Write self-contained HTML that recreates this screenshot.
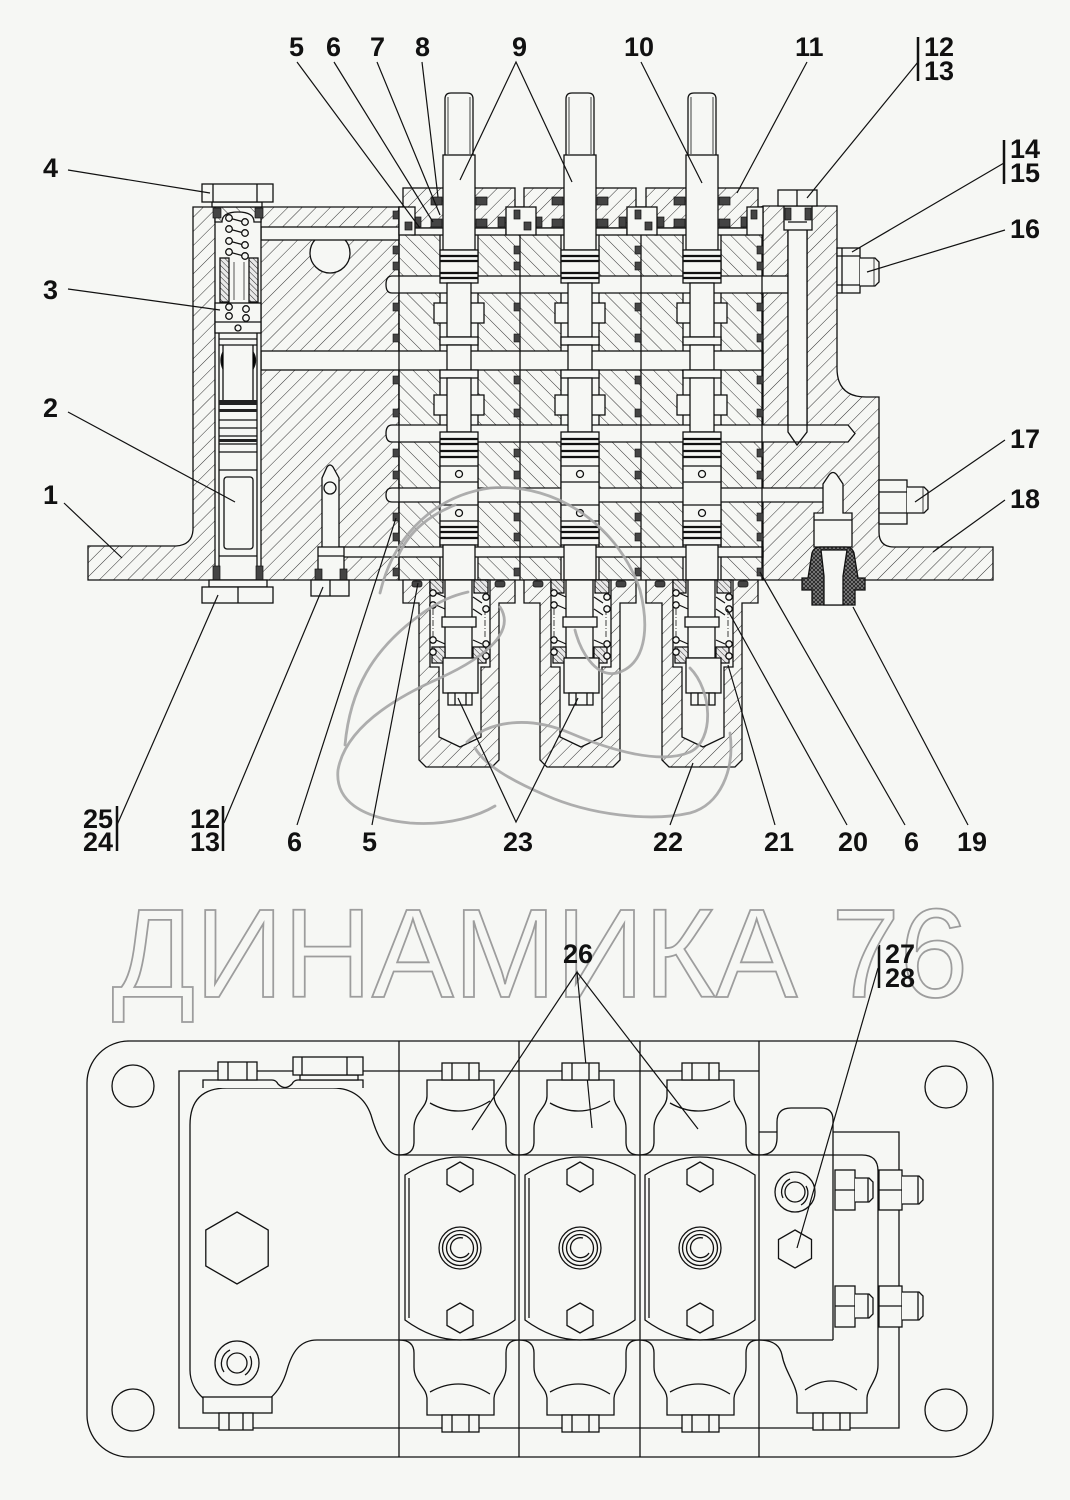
<!DOCTYPE html>
<html><head><meta charset="utf-8"><style>
html,body{margin:0;padding:0;background:#f6f7f4;}
svg{display:block}
</style></head><body>
<svg width="1070" height="1500" viewBox="0 0 1070 1500" xmlns="http://www.w3.org/2000/svg">
<style>
.o{fill:none;stroke:#111;stroke-width:1.3}
.k{stroke:#111;stroke-width:1.3}
.w{fill:#f6f7f4;stroke:#111;stroke-width:1.3}
.s{fill:#444;stroke:#111;stroke-width:.7}
.l{fill:none;stroke:#111;stroke-width:1.2}
.g{fill:none;stroke:#a6a6a6;stroke-width:2.8;stroke-linecap:round}
.t{font-family:"Liberation Sans",Arial,sans-serif;font-weight:bold;font-size:27px;fill:#111}
</style>
<defs>
<pattern id="hA" patternUnits="userSpaceOnUse" width="10" height="10" patternTransform="rotate(45)"><rect width="10" height="10" fill="#f6f7f4"/><line x1="0" y1="0" x2="0" y2="10" stroke="#333" stroke-width="1"/></pattern>
<pattern id="hB" patternUnits="userSpaceOnUse" width="10" height="10" patternTransform="rotate(-45)"><rect width="10" height="10" fill="#f6f7f4"/><line x1="0" y1="0" x2="0" y2="10" stroke="#333" stroke-width="1"/></pattern>
<pattern id="hS" patternUnits="userSpaceOnUse" width="4" height="4" patternTransform="rotate(-45)"><rect width="4" height="4" fill="#e8e8e8"/><line x1="0" y1="0" x2="0" y2="4" stroke="#222" stroke-width="1"/></pattern>
<pattern id="xh" patternUnits="userSpaceOnUse" width="4" height="4"><rect width="4" height="4" fill="#888"/><path d="M0,0L4,4M4,0L0,4" stroke="#222" stroke-width=".9"/></pattern>

<g id="sq" fill="#444" stroke="#111" stroke-width=".6">
<rect x="-6" y="211" width="6" height="8"/><rect x="-6" y="246" width="6" height="8"/><rect x="-6" y="262" width="6" height="8"/>
<rect x="-6" y="303" width="6" height="8"/><rect x="-6" y="334" width="6" height="8"/><rect x="-6" y="376" width="6" height="8"/>
<rect x="-6" y="409" width="6" height="8"/><rect x="-6" y="449" width="6" height="8"/><rect x="-6" y="471" width="6" height="8"/>
<rect x="-6" y="513" width="6" height="8"/><rect x="-6" y="533" width="6" height="8"/><rect x="-6" y="568" width="6" height="8"/>
</g>

<g id="bore">
<rect x="-19" y="235" width="38" height="345" fill="#f6f7f4"/>
<line x1="-19" y1="235" x2="-19" y2="580" class="k"/><line x1="19" y1="235" x2="19" y2="580" class="k"/>
<rect x="-25" y="303" width="50" height="20" class="w"/>
<rect x="-25" y="395" width="50" height="20" class="w"/>
</g>

<g id="cap">
<rect x="-56" y="188" width="112" height="40" fill="url(#hA)" class="k"/>
<rect x="-47" y="228" width="94" height="7" class="w"/>
<rect x="-28" y="197" width="11" height="8" class="s"/><rect x="17" y="197" width="11" height="8" class="s"/>
<rect x="-28" y="219" width="11" height="8" class="s"/><rect x="17" y="219" width="11" height="8" class="s"/>
<rect x="-45" y="217" width="7" height="10" class="s"/><rect x="39" y="217" width="7" height="10" class="s"/>
</g>

<g id="bush">
<rect x="-14" y="207" width="30" height="28" class="w"/>
<rect x="-6" y="210" width="6" height="9" class="s"/>
<rect x="4" y="222" width="7" height="8" class="s"/>
</g>

<g id="spool">
<path d="M-14,157 V99 Q-14,93 -8,93 H8 Q14,93 14,99 V157" class="w"/>
<line x1="-11" y1="97" x2="-11" y2="154" stroke="#111" stroke-width=".8"/>
<line x1="11" y1="97" x2="11" y2="154" stroke="#111" stroke-width=".8"/>
<rect x="-16" y="155" width="32" height="95" class="w"/>
<rect x="-19" y="250" width="38" height="33" class="w"/>
<g stroke="#111" stroke-width="2.2"><line x1="-19" y1="256" x2="19" y2="256"/><line x1="-19" y1="261" x2="19" y2="261"/><line x1="-19" y1="273" x2="19" y2="273"/><line x1="-19" y1="278" x2="19" y2="278"/></g>
<rect x="-12" y="283" width="24" height="54" class="w"/>
<rect x="-19" y="337" width="38" height="8" class="w"/>
<rect x="-12" y="345" width="24" height="25" class="w"/>
<rect x="-19" y="370" width="38" height="8" class="w"/>
<rect x="-12" y="378" width="24" height="54" class="w"/>
<rect x="-19" y="432" width="38" height="113" class="w"/>
<g stroke="#111" stroke-width="2.2"><line x1="-19" y1="439" x2="19" y2="439"/><line x1="-19" y1="444" x2="19" y2="444"/><line x1="-19" y1="451" x2="19" y2="451"/><line x1="-19" y1="457" x2="19" y2="457"/><line x1="-19" y1="527" x2="19" y2="527"/><line x1="-19" y1="532" x2="19" y2="532"/><line x1="-19" y1="538" x2="19" y2="538"/></g>
<g class="k"><line x1="-19" y1="466" x2="19" y2="466"/><line x1="-19" y1="482" x2="19" y2="482"/><line x1="-19" y1="505" x2="19" y2="505"/><line x1="-19" y1="521" x2="19" y2="521"/></g>
<circle cx="0" cy="474" r="3.5" class="w"/><circle cx="0" cy="513" r="3.5" class="w"/>
<rect x="-16" y="545" width="32" height="35" class="w"/>
</g>

<g id="cup">
<path d="M-56,580 H56 V603 H40 V760 L33,767 H-33 L-40,760 V603 H-56 Z" fill="url(#hA)" class="k"/>
<path d="M-29,580 H31 V667 H22 V737 L1,747 L-20,737 V667 H-29 Z" class="w"/>
<rect x="-47" y="581" width="10" height="6" rx="2" class="s"/><rect x="36" y="581" width="10" height="6" rx="2" class="s"/>
<rect x="-29" y="580" width="13" height="13" fill="url(#hS)" class="k"/><rect x="15" y="580" width="14" height="13" fill="url(#hS)" class="k"/>
<line x1="-26" y1="609" x2="-26" y2="637" stroke="#111" stroke-width=".8" stroke-dasharray="6 2 1 2"/>
<line x1="26" y1="609" x2="26" y2="637" stroke="#111" stroke-width=".8" stroke-dasharray="6 2 1 2"/>
<path d="M-23,593 L-14,597 M-23,605 L-14,609 M14,597 L23,603 M14,609 L23,615 M-23,640 L-14,644 M-23,652 L-14,656 M14,640 L23,644" class="l"/>
<rect x="-14" y="580" width="27" height="78" class="w"/>
<rect x="-17" y="617" width="34" height="10" class="w"/>
<rect x="-27" y="647" width="13" height="16" fill="url(#hS)" class="k"/><rect x="14" y="647" width="13" height="16" fill="url(#hS)" class="k"/>
<rect x="-16" y="658" width="35" height="35" class="w"/>
<rect x="-11" y="693" width="24" height="12" class="w"/>
<line x1="-4" y1="693" x2="-4" y2="705" class="k"/><line x1="7" y1="693" x2="7" y2="705" class="k"/>
<g class="w"><circle cx="-26" cy="593" r="3.2"/><circle cx="-26" cy="605" r="3.2"/><circle cx="-26" cy="640" r="3.2"/><circle cx="-26" cy="652" r="3.2"/>
<circle cx="27" cy="597" r="3.2"/><circle cx="27" cy="609" r="3.2"/><circle cx="27" cy="644" r="3.2"/><circle cx="27" cy="656" r="3.2"/></g>
</g>

<polygon id="hx15" points="0,-15 13,-7.5 13,7.5 0,15 -13,7.5 -13,-7.5"/>

<g id="bcap">
<path d="M-61,1155 Q-46,1155 -46,1142 V1128 C-46,1112 -33,1108 -33,1096 V1080 H34 V1096 C34,1108 46,1112 46,1128 V1142 Q46,1155 59,1155"/>
<rect x="-18" y="1063" width="37" height="17" fill="#f6f7f4"/>
<line x1="-8" y1="1063" x2="-8" y2="1080"/><line x1="9" y1="1063" x2="9" y2="1080"/>
<path d="M-30,1103 Q0,1120 30,1101"/>
</g>

<g id="bsec" class="o">
<use href="#bcap"/>
<g transform="translate(0,2495) scale(1,-1)"><use href="#bcap"/></g>
<path d="M-55,1175 Q0,1139 55,1175 V1320 Q0,1360 -55,1320 Z"/>
<path d="M-51,1178 V1318"/>
<use href="#hx15" y="1177"/>
<use href="#hx15" y="1318"/>
<circle cx="0" cy="1248" r="21"/><circle cx="0" cy="1248" r="17.5"/><circle cx="0" cy="1248" r="13.5"/>
<path d="M9,1253 A10,10 0 1,1 3,1238"/>
</g>
</defs>

<rect width="1070" height="1500" fill="#f6f7f4"/>

<!-- ===== TOP CROSS SECTION ===== -->
<path d="M193,207 H399 V580 H88 V546 H176 Q192,545 193,530 Z" fill="url(#hA)" class="k"/>
<rect x="399" y="207" width="364" height="373" fill="url(#hB)" class="k"/>
<path d="M763,206 H837 V368 Q837,397 866,397 H879 V532 Q879,547 894,547 H993 V580 H763 Z" fill="url(#hA)" class="k"/>

<!-- spool bores -->
<use href="#bore" x="459"/><use href="#bore" x="580"/><use href="#bore" x="702"/>

<!-- round hole -->
<circle cx="330" cy="253" r="20" class="w"/>

<!-- channels -->
<rect x="261" y="227" width="138" height="13" class="w"/>
<rect x="261" y="351" width="502" height="19" class="w"/>
<path d="M392,276 H795 V293 H392 Q386,293 386,284.5 Q386,276 392,276 Z" class="w"/>
<path d="M788,228 V425 M807,228 V425" class="k"/>
<rect x="788" y="228" width="19" height="197" fill="#f6f7f4"/>
<path d="M788,228 V425 M807,228 V425" class="k"/>
<path d="M392,425 H848 L855,433.5 L848,442 H392 Q386,442 386,433.5 Q386,425 392,425 Z" class="w"/>
<path d="M788,425 V432 L797,445 L807,432 V425" class="o"/>
<path d="M392,488 H830 V502 H392 Q386,502 386,495 Q386,488 392,488 Z" class="w"/>
<rect x="339" y="547" width="424" height="10" class="w"/>

<!-- right body plug seat -->
<rect x="784" y="206" width="28" height="24" class="w"/>
<rect x="785" y="208" width="6" height="12" class="s"/><rect x="805" y="208" width="6" height="12" class="s"/>
<line x1="788" y1="222" x2="807" y2="222" class="k"/>
<!-- right body valve -->
<path d="M823,513 V484 L829,475 Q833,470 837,475 L843,484 V513 H852 V547 H814 V513 Z" class="w"/>
<line x1="814" y1="520" x2="852" y2="520" class="k"/>
<!-- fitting 19 -->
<path d="M808,578 L812,553 Q814,547 820,547 H846 Q852,547 854,553 L858,578 H865 V590 H855 V605 H812 V590 H802 V578 Z" fill="url(#xh)" class="k"/>
<path d="M821,550 H847 L843,576 V605 H824 V576 Z" class="w"/>

<!-- section lines & seals -->
<path d="M399,207V580M520,207V580M641,207V580M762,206V580" class="k"/>
<use href="#sq" x="399"/><use href="#sq" x="520"/><use href="#sq" x="641"/><use href="#sq" x="763"/>

<!-- caps -->
<use href="#cap" x="459"/><use href="#cap" x="580"/><use href="#cap" x="702"/>
<use href="#bush" x="520"/><use href="#bush" x="641"/>
<rect x="399" y="207" width="16" height="28" class="w"/><rect x="405" y="222" width="7" height="8" class="s"/>
<rect x="747" y="207" width="16" height="28" class="w"/><rect x="751" y="210" width="6" height="9" class="s"/>

<!-- spools -->
<use href="#spool" x="459"/><use href="#spool" x="580"/><use href="#spool" x="702"/>

<!-- cups -->
<use href="#cup" x="459"/><use href="#cup" x="580"/><use href="#cup" x="702"/>

<!-- left bore (items 2,3) -->
<rect x="215" y="207" width="46" height="373" class="w"/>
<path d="M215,207 H261 V222 H254 Q254,212 238,212 Q222,212 222,222 H215 Z" fill="url(#hB)" class="k"/>
<rect x="213" y="208" width="8" height="10" class="s"/><rect x="255" y="208" width="8" height="10" class="s"/>
<path d="M229,218 L244,222 M229,229 L244,233 M229,241 L244,245 M229,252 L244,256" class="l"/>
<g class="w"><circle cx="229" cy="218" r="3.3"/><circle cx="245" cy="222" r="3.3"/><circle cx="229" cy="229" r="3.3"/><circle cx="245" cy="233" r="3.3"/><circle cx="229" cy="241" r="3.3"/><circle cx="245" cy="245" r="3.3"/><circle cx="229" cy="252" r="3.3"/><circle cx="245" cy="256" r="3.3"/></g>
<rect x="220" y="258" width="9" height="44" fill="url(#hS)" class="k"/>
<rect x="249" y="258" width="9" height="44" fill="url(#hS)" class="k"/>
<line x1="234" y1="262" x2="234" y2="300" stroke="#111" stroke-width=".7"/><line x1="244" y1="262" x2="244" y2="300" stroke="#111" stroke-width=".7"/>
<rect x="215" y="303" width="46" height="30" class="w"/>
<line x1="215" y1="322" x2="261" y2="322" class="k"/>
<g class="w"><circle cx="229" cy="307" r="3.3"/><circle cx="246" cy="309" r="3.3"/><circle cx="229" cy="316" r="3.3"/><circle cx="246" cy="318" r="3.3"/></g>
<circle cx="238" cy="328" r="3" class="w"/>
<path d="M219,333 V570 M257,333 V570" class="k"/>
<path d="M219,339 H257 M219,345 H257 M223,345 V400 M253,345 V400" class="k"/>
<path d="M253,352 Q258,360 253,369 M223,352 Q219,360 223,369" class="k"/>
<rect x="219" y="400" width="38" height="5" fill="#222"/>
<rect x="219" y="409" width="38" height="3" fill="#222"/>
<path d="M219,420 H257 M219,428 H257 M219,436 H257 M219,444 H257 M219,452 H257 M219,470 H257" class="k"/>
<rect x="219" y="439" width="38" height="3" fill="#222"/>
<rect x="224" y="477" width="29" height="72" rx="3" class="w"/>
<line x1="219" y1="556" x2="257" y2="556" class="k"/>
<rect x="213" y="566" width="7" height="14" class="s"/><rect x="256" y="566" width="7" height="14" class="s"/>

<!-- pin -->
<path d="M322,547 V478 L327,467 Q330,463 333,467 L339,478 V547" class="w"/>
<circle cx="330" cy="488" r="6" class="w"/>
<rect x="318" y="547" width="26" height="33" class="w"/>
<line x1="318" y1="556" x2="344" y2="556" class="k"/>
<rect x="315" y="569" width="7" height="11" class="s"/><rect x="340" y="569" width="7" height="11" class="s"/>

<!-- external plugs / nuts -->
<rect x="212" y="202" width="50" height="5" class="w"/>
<rect x="202" y="184" width="71" height="18" class="w"/>
<path d="M213,184V202M257,184V202" class="k"/>
<rect x="209" y="580" width="58" height="7" class="w"/>
<rect x="202" y="587" width="71" height="16" class="w"/>
<line x1="238" y1="587" x2="238" y2="603" class="k"/>
<rect x="311" y="580" width="38" height="16" class="w"/>
<line x1="330" y1="580" x2="330" y2="596" class="k"/>
<rect x="778" y="190" width="39" height="16" class="w"/>
<line x1="797" y1="190" x2="797" y2="206" class="k"/>
<rect x="837" y="248" width="23" height="45" class="w"/>
<path d="M837,256H860M837,285H860M842,248V293" class="k"/>
<path d="M860,258 H875 L879,262 V282 L875,286 H860" class="w"/>
<line x1="874" y1="258" x2="874" y2="286" stroke="#111" stroke-width=".8"/>
<rect x="879" y="480" width="28" height="44" class="w"/>
<path d="M879,492H907M879,513H907" class="k"/>
<path d="M907,487 H924 L928,491 V509 L924,513 H907" class="w"/>
<line x1="923" y1="487" x2="923" y2="513" stroke="#111" stroke-width=".8"/>

<!-- gray logo scribble -->
<g class="g" opacity=".9">
<path d="M380,593 C395,530 440,495 490,488 C560,482 620,530 640,590 C650,630 645,665 617,673 C595,678 580,650 575,630"/>
<path d="M500,607 C515,630 490,655 440,678 C390,700 345,730 338,770 C335,800 360,818 410,823 C450,826 480,815 495,806"/>
<path d="M467,742 C490,720 530,716 570,733 C610,750 660,765 690,752 C715,740 712,690 690,668"/>
<path d="M730,733 C735,770 720,805 690,813 C650,822 590,815 545,795 C510,780 485,765 475,748"/>
<path d="M345,745 C350,690 372,650 420,615 C440,600 455,595 468,592"/>
<path d="M398,556 C410,530 430,515 455,505"/>
</g>

<!-- leaders -->
<g class="l">
<path d="M297,62L420,228M334,62L433,222M377,62L440,215M422,62L438,197"/>
<path d="M460,180L516,62L572,182"/>
<path d="M641,62L702,183M807,62L737,193M918,62L807,198"/>
<path d="M1004,163L852,252M1005,230L867,272"/>
<path d="M68,170L210,193M68,289L220,310M68,412L235,502M64,503L122,558"/>
<path d="M1005,440L915,502M1005,500L933,552"/>
<path d="M117,825L218,595M224,823L323,587M297,825L396,518M372,825L418,583"/>
<path d="M458,698L516,822L578,698"/>
<path d="M670,825L693,763M775,825L728,665M847,825L727,609M905,825L760,572M968,825L853,607"/>
</g>
<g stroke="#111" stroke-width="2.5">
<line x1="918" y1="37" x2="918" y2="81"/>
<line x1="1004" y1="140" x2="1004" y2="184"/>
<line x1="117" y1="806" x2="117" y2="851"/>
<line x1="223" y1="806" x2="223" y2="851"/>
<line x1="879" y1="945" x2="879" y2="988"/>
</g>

<!-- labels -->
<g class="t">
<text x="289" y="56">5</text><text x="326" y="56">6</text><text x="370" y="56">7</text><text x="415" y="56">8</text>
<text x="512" y="56">9</text><text x="624" y="56">10</text><text x="795" y="56">11</text>
<text x="924" y="56">12</text><text x="924" y="80">13</text>
<text x="1010" y="158">14</text><text x="1010" y="182">15</text>
<text x="1010" y="238">16</text>
<text x="43" y="177">4</text><text x="43" y="299">3</text><text x="43" y="417">2</text><text x="43" y="504">1</text>
<text x="1010" y="448">17</text><text x="1010" y="508">18</text>
<text x="83" y="828">25</text><text x="83" y="851">24</text>
<text x="190" y="828">12</text><text x="190" y="851">13</text>
<text x="287" y="851">6</text><text x="362" y="851">5</text>
<text x="503" y="851">23</text><text x="653" y="851">22</text><text x="764" y="851">21</text>
<text x="838" y="851">20</text><text x="904" y="851">6</text><text x="957" y="851">19</text>
</g>

<!-- watermark -->
<text x="112" y="997" font-family="'Liberation Sans','DejaVu Sans',sans-serif" font-size="126" textLength="856" lengthAdjust="spacingAndGlyphs" fill="#f6f7f4" stroke="#9d9d9d" stroke-width="1.8">ДИНАМИКА 76</text>

<g class="t"><text x="563" y="963">26</text><text x="885" y="963">27</text><text x="885" y="987">28</text></g>
<path d="M472,1130L577,972L592,1128M577,972L698,1129M878,968L797,1248" class="l"/>

<!-- ===== BOTTOM PLAN VIEW ===== -->
<g class="o">
<rect x="87" y="1041" width="906" height="416" rx="42"/>
<circle cx="133" cy="1086" r="21"/><circle cx="133" cy="1410" r="21"/>
<circle cx="946" cy="1087" r="21"/><circle cx="946" cy="1410" r="21"/>
<path d="M759,1071 H179 V1428 H899 V1132 H833"/>
<path d="M759,1132 H777"/>
<path d="M399,1041V1457M519,1041V1457M640,1041V1457M759,1041V1457"/>
<path d="M399,1155 H862 Q878,1155 878,1171 V1365"/>
<path d="M399,1340 H833"/>

<!-- left body -->
<path d="M399,1155 C388,1155 378,1140 371,1115 C365,1098 352,1088 333,1088 H227 Q190,1088 190,1125 V1370 C190,1392 210,1410 237,1410 C262,1410 280,1395 287,1370 C292,1352 300,1340 317,1340 H399"/>
<path d="M203,1088 V1080 H272 Q276,1080 278,1084 Q285,1091 292,1084 Q294,1080 298,1080 H363 V1088" fill="#f6f7f4"/>
<rect x="218" y="1062" width="39" height="18" fill="#f6f7f4"/>
<path d="M228,1062V1080M247,1062V1080"/>
<rect x="300" y="1075" width="58" height="5" fill="#f6f7f4"/>
<rect x="293" y="1057" width="70" height="18" fill="#f6f7f4"/>
<path d="M302,1057V1075M347,1057V1075"/>
<rect x="203" y="1397" width="69" height="16" fill="#f6f7f4"/>
<rect x="219" y="1413" width="34" height="17" fill="#f6f7f4"/>
<path d="M229,1413V1430M243,1413V1430"/>
<polygon points="237,1212 268.2,1230 268.2,1266 237,1284 205.8,1266 205.8,1230"/>
<circle cx="237" cy="1363" r="22"/><circle cx="237" cy="1363" r="10"/>
<path d="M224,1372 A15,15 0 0,1 230,1350"/><path d="M250,1356 A15,15 0 0,1 245,1375"/>

<!-- sections -->
<use href="#bsec" x="460"/><use href="#bsec" x="580"/><use href="#bsec" x="700"/>

<!-- section 4 -->
<path d="M759,1155 Q777,1155 777,1138 V1122 Q777,1108 791,1108 H821 Q833,1108 833,1120 V1340"/>
<path d="M759,1340 Q779,1340 782,1355 C785,1372 797,1385 797,1398 V1413 H867 V1398 C867,1388 878,1380 878,1365"/>
<rect x="813" y="1413" width="37" height="17" fill="#f6f7f4"/>
<path d="M823,1413V1430M840,1413V1430"/>
<path d="M805,1390 Q831,1372 857,1390"/>
<circle cx="795" cy="1192" r="20"/><circle cx="795" cy="1192" r="10"/>
<path d="M783,1198 A14,14 0 0,1 790,1179"/><path d="M806,1186 A14,14 0 0,1 801,1205"/>
<polygon points="795,1230 811.5,1239.5 811.5,1258.5 795,1268 778.5,1258.5 778.5,1239.5"/>

<!-- right fittings -->
<g fill="#f6f7f4">
<rect x="835" y="1170" width="20" height="40"/><path d="M855,1178 H869 L873,1182 V1198 L869,1202 H855"/>
<rect x="879" y="1170" width="23" height="40"/><path d="M902,1176 H919 L923,1180 V1200 L919,1204 H902"/>
<rect x="835" y="1286" width="20" height="41"/><path d="M855,1294 H869 L873,1298 V1314 L869,1318 H855"/>
<rect x="879" y="1286" width="23" height="41"/><path d="M902,1292 H919 L923,1296 V1316 L919,1320 H902"/>
</g>
<path d="M835,1190H855M879,1190H902M835,1306H855M879,1306H902M868,1178V1202M918,1176V1204M868,1294V1318M918,1292V1320"/>
</g>
</svg>
</body></html>
